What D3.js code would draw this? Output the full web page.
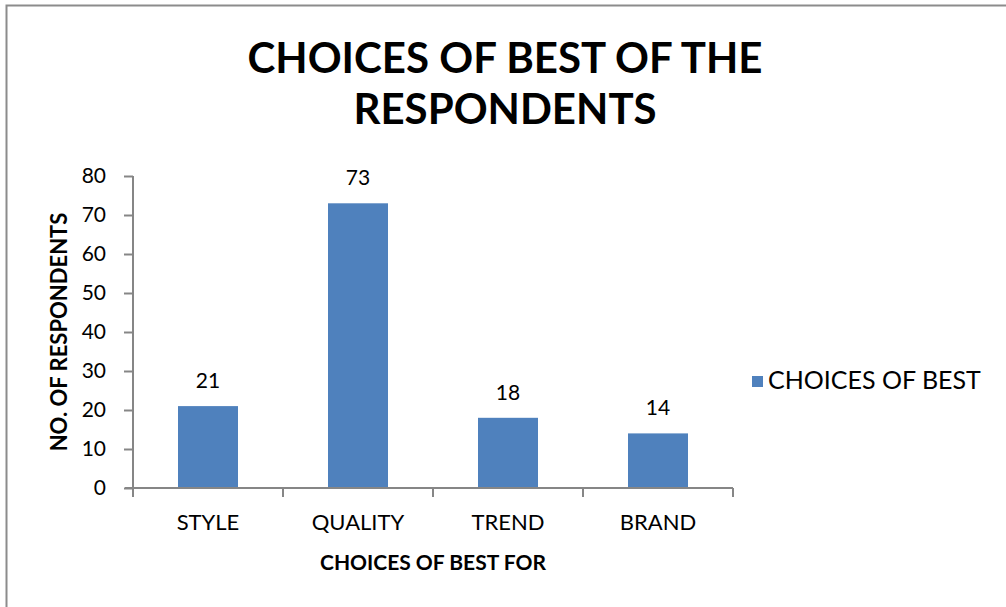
<!DOCTYPE html>
<html>
<head>
<meta charset="utf-8">
<script src="https://cdn.jsdelivr.net/npm/d3@7"></script>
<style>
  body { margin: 0; background: #fff; }
  svg { display: block; font-family: Lato, "Open Sans", sans-serif; }
</style>
</head>
<body>
<svg id="chart" width="1006" height="607"></svg>
<script>
// --- data ---
var categories = ["STYLE", "QUALITY", "TREND", "BRAND"];
var values = [21, 73, 18, 14];
var yTicks = [0, 10, 20, 30, 40, 50, 60, 70, 80];
var titleLines = ["CHOICES OF BEST OF THE", "RESPONDENTS"];
var seriesName = "CHOICES OF BEST";
var xTitle = "CHOICES OF BEST FOR";
var yTitle = "NO. OF RESPONDENTS";

var barColor = "#4F81BD";
var axisColor = "#868686";

var svg = d3.select("#chart");

// outer frame (only top and left edges are visible in the picture)
svg.append("path")
    .attr("d", "M6.5,700V5.5H1100")
    .attr("fill", "none")
    .attr("stroke", "#8c8c8c")
    .attr("stroke-width", 2);

// plot area
var plot = { left: 133, right: 733, top: 176, bottom: 488 };

var x = d3.scaleBand()
    .domain(categories)
    .range([plot.left, plot.right])
    .paddingInner(0.6)
    .paddingOuter(0.3);

var y = d3.scaleLinear()
    .domain([0, 80])
    .range([plot.bottom, plot.top]);

// title
svg.append("g").selectAll("text")
    .data(titleLines)
    .enter().append("text")
    .attr("x", 505)
    .attr("y", (d, i) => 73 + i * 51)
    .attr("text-anchor", "middle")
    .attr("font-size", 42)
    .attr("font-weight", "bold")
    .attr("fill", "#000")
    .text(d => d);

// bars
svg.append("g").selectAll("rect")
    .data(values)
    .enter().append("rect")
    .attr("x", (d, i) => x(categories[i]))
    .attr("y", d => y(d))
    .attr("width", x.bandwidth())
    .attr("height", d => y(0) - y(d))
    .attr("fill", barColor);

// value labels
svg.append("g").selectAll("text")
    .data(values)
    .enter().append("text")
    .attr("x", (d, i) => x(categories[i]) + x.bandwidth() / 2)
    .attr("y", d => y(d) - 18)
    .attr("text-anchor", "middle")
    .attr("font-size", 21)
    .attr("fill", "#000")
    .text(d => d);

// y axis
var yAxis = d3.axisLeft(y).tickValues(yTicks).tickSize(9).tickPadding(18);
var gy = svg.append("g")
    .attr("transform", "translate(" + plot.left + ",0)")
    .call(yAxis);
gy.select(".domain").attr("d", "M0," + (plot.top) + "V" + (plot.bottom));
gy.selectAll("line, path").attr("stroke", axisColor).attr("stroke-width", 2);
gy.selectAll("text")
    .attr("font-size", 21)
    .attr("font-family", "Lato, 'Open Sans', sans-serif")
    .attr("fill", "#000");

// x axis: ticks sit on the category boundaries
var step = x.step();
var boundaries = d3.range(categories.length + 1).map(i => plot.left + i * step);
var gx = svg.append("g");
gx.append("line")
    .attr("x1", plot.left - 8).attr("x2", plot.right)
    .attr("y1", plot.bottom).attr("y2", plot.bottom)
    .attr("stroke", axisColor).attr("stroke-width", 2);
gx.selectAll("line.tick")
    .data(boundaries)
    .enter().append("line")
    .attr("class", "tick")
    .attr("x1", d => d).attr("x2", d => d)
    .attr("y1", plot.bottom).attr("y2", plot.bottom + 9)
    .attr("stroke", axisColor).attr("stroke-width", 2);
gx.selectAll("text")
    .data(categories)
    .enter().append("text")
    .attr("x", d => x(d) + x.bandwidth() / 2)
    .attr("y", 530)
    .attr("text-anchor", "middle")
    .attr("font-size", 22)
    .attr("fill", "#000")
    .text(d => d);

// axis titles
svg.append("text")
    .attr("x", (plot.left + plot.right) / 2)
    .attr("y", 570)
    .attr("text-anchor", "middle")
    .attr("font-size", 21)
    .attr("font-weight", "bold")
    .text(xTitle);

svg.append("text")
    .attr("transform", "translate(67," + ((plot.top + plot.bottom) / 2) + ") rotate(-90)")
    .attr("text-anchor", "middle")
    .attr("font-size", 22)
    .attr("font-weight", "bold")
    .text(yTitle);

// legend
var legend = svg.append("g").attr("transform", "translate(752,376)");
legend.append("rect")
    .attr("width", 11).attr("height", 11)
    .attr("fill", barColor);
legend.append("text")
    .attr("x", 16).attr("y", 13)
    .attr("font-size", 25)
    .text(seriesName);
</script>
</body>
</html>
